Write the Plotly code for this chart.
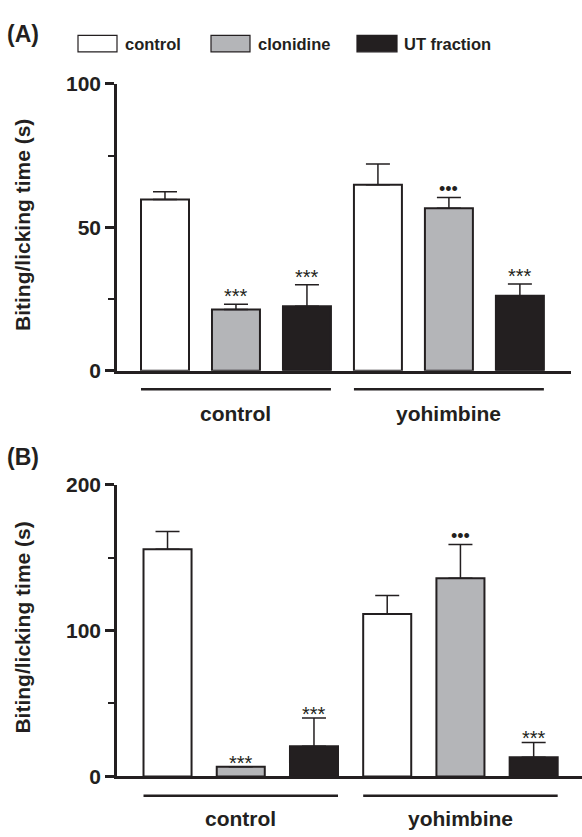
import plotly.graph_objects as go

W, H = 582, 837

groups = ["control", "yohimbine"]
treatments = ["control", "clonidine", "UT fraction"]
colors = ["#ffffff", "#b4b5b8", "#231f20"]

# Panel A (per treatment, across groups)
a_means = {"control": [59.7, 64.9], "clonidine": [21.4, 56.7], "UT fraction": [22.5, 26.2]}
a_sem = {"control": [2.7, 7.2], "clonidine": [1.8, 3.7], "UT fraction": [7.5, 4.1]}
a_marks = {"control": ["", ""], "clonidine": ["***", "•••"], "UT fraction": ["***", "***"]}

# Panel B
b_means = {"control": [155.8, 111.3], "clonidine": [6.7, 135.8], "UT fraction": [20.7, 13.1]}
b_sem = {"control": [12.0, 12.7], "clonidine": [0.0, 23.1], "UT fraction": [19.3, 10.2]}
b_marks = {"control": ["", ""], "clonidine": ["***", "•••"], "UT fraction": ["***", "***"]}

FONT = "Liberation Sans, Arial, Helvetica, sans-serif"
INK = "#231f20"

def px_x(p):
    return p / W

def px_y(p):
    return 1 - p / H

fig = go.Figure()
annotations = []
shapes = []

panels = [
    dict(means=a_means, sem=a_sem, marks=a_marks, xa="x", ya="y", width=0.676, star_shift=-5, dot_shift=-3),
    dict(means=b_means, sem=b_sem, marks=b_marks, xa="x2", ya="y2", width=0.656, star_shift=-9, dot_shift=-3),
]

for pi, P in enumerate(panels):
    for ti, t in enumerate(treatments):
        xs = [g * 3 + ti for g in range(len(groups))]
        fig.add_trace(go.Bar(
            x=xs, y=P["means"][t], name=t, width=P["width"],
            marker=dict(color=colors[ti], line=dict(color=INK, width=2)),
            error_y=dict(type="data", symmetric=False, array=P["sem"][t],
                         arrayminus=[0] * len(xs), color=INK, thickness=1.5, width=12),
            xaxis=P["xa"], yaxis=P["ya"], showlegend=False,
        ))
        for gi, x in enumerate(xs):
            m = P["marks"][t][gi]
            if m:
                annotations.append(dict(
                    x=x, y=P["means"][t][gi] + P["sem"][t][gi], xref=P["xa"], yref=P["ya"],
                    text=m, showarrow=False, yanchor="bottom",
                    yshift=P["star_shift"] if m == "***" else P["dot_shift"],
                    font=dict(family=FONT, size=20 if m == "***" else 18, color=INK),
                ))
    # group underlines and labels
    half = P["width"] / 2
    line_y = px_y(388) if pi == 0 else px_y(806)
    lab_y = px_y(413) if pi == 0 else px_y(829)
    for gi, g in enumerate(groups):
        x0 = gi * 3 - half
        x1 = gi * 3 + 2 + half
        shapes.append(dict(type="line", xref=P["xa"], yref="paper", x0=x0, x1=x1,
                           y0=line_y, y1=line_y, line=dict(color=INK, width=2.5)))
        annotations.append(dict(x=gi * 3 + 1, y=lab_y, xref=P["xa"], yref="paper",
                                text=g, showarrow=False, yanchor="middle",
                                font=dict(family=FONT, size=21, color=INK, weight="bold")))

# panel letters
annotations.append(dict(x=px_x(5), y=px_y(23), xref="paper", yref="paper", text="(A)",
                        showarrow=False, xanchor="left", yanchor="middle",
                        font=dict(family=FONT, size=23, color=INK, weight="bold")))
annotations.append(dict(x=px_x(5), y=px_y(458), xref="paper", yref="paper", text="(B)",
                        showarrow=False, xanchor="left", yanchor="middle",
                        font=dict(family=FONT, size=23, color=INK, weight="bold")))

# y titles
for yc in (219, 633):
    annotations.append(dict(x=px_x(23), y=px_y(yc), xref="paper", yref="paper",
                            text="Biting/licking time (s)", textangle=-90, showarrow=False,
                            xanchor="center", yanchor="middle",
                            font=dict(family=FONT, size=21, color=INK, weight="bold")))

# legend
leg = [(78, 117, 123), (211, 250, 256), (357, 397, 402)]
for ti, t in enumerate(treatments):
    x0, x1, tx = leg[ti]
    shapes.append(dict(type="rect", xref="paper", yref="paper", x0=px_x(x0), x1=px_x(x1),
                       y0=px_y(41), y1=px_y(24), fillcolor=colors[ti],
                       line=dict(color=INK, width=1.2)))
    annotations.append(dict(x=px_x(tx), y=px_y(33), xref="paper", yref="paper", text=t,
                            showarrow=False, xanchor="left", yanchor="middle",
                            font=dict(family=FONT, size=16.5, color=INK, weight="bold")))

yax_common = dict(showgrid=False, zeroline=False, showline=True, linecolor=INK, linewidth=2.5,
                  ticks="outside", ticklen=9, tickwidth=2.5, tickcolor=INK,
                  tickfont=dict(family=FONT, size=21, color=INK, weight="bold"))
xax_common = dict(showgrid=False, zeroline=False, showline=True, linecolor=INK, linewidth=2.5,
                  ticks="", showticklabels=False)

fig.update_layout(
    width=W, height=H, margin=dict(l=0, r=0, t=0, b=0),
    paper_bgcolor="white", plot_bgcolor="white", barmode="overlay",
    xaxis=dict(domain=[px_x(117), px_x(571)], range=[-0.676, 5.72], anchor="y", **xax_common),
    yaxis=dict(domain=[px_y(369), px_y(74)], range=[0, 100], tickvals=[0, 50, 100], anchor="x",
               minor=dict(dtick=25, ticklen=6, tickwidth=2, ticks="outside", tickcolor=INK, showgrid=False),
               **yax_common),
    xaxis2=dict(domain=[px_x(117), 1.0], range=[-0.69, 5.66], anchor="y2", **xax_common),
    yaxis2=dict(domain=[px_y(786), px_y(486)], range=[0, 200], tickvals=[0, 100, 200], anchor="x2",
                minor=dict(dtick=50, ticklen=6, tickwidth=2, ticks="outside", tickcolor=INK, showgrid=False),
                **yax_common),
    annotations=annotations, shapes=shapes,
)

fig.write_html("out.html", config={"displayModeBar": False},
               post_script="document.body.style.margin='0px';document.body.style.overflow='hidden';")
